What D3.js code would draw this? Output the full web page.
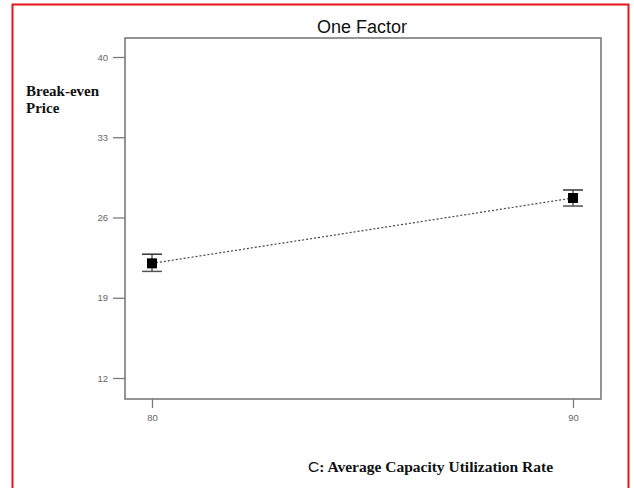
<!DOCTYPE html>
<html>
<head>
<meta charset="utf-8">
<script src="https://cdn.jsdelivr.net/npm/d3@7"></script>
<style>
  body { margin: 0; background: #fff; }
</style>
</head>
<body>
<div id="chart"></div>
<script>
// data
const levels = [80, 90];
const means = [22.0, 27.7];
const lower = [21.3, 27.0];
const upper = [22.8, 28.4];
const yTicks = [12, 19, 26, 33, 40];

const width = 634, height = 488;
const plot = { left: 125, right: 601, top: 38, bottom: 399 };

const svg = d3.select('#chart')
  .append('svg')
  .attr('width', width)
  .attr('height', height);

// red frame (no bottom edge, image is cut there)
svg.append('path')
  .attr('d', `M12.5,${height} L12.5,4.5 L628.5,4.5 L628.5,${height}`)
  .attr('fill', 'none')
  .attr('stroke', '#e8141c')
  .attr('stroke-width', 2);

const x = d3.scaleLinear().domain([80, 90]).range([152, 573]);
const y = d3.scaleLinear().domain([12, 40]).range([378, 57]);

// plot box
svg.append('rect')
  .attr('x', plot.left)
  .attr('y', plot.top)
  .attr('width', plot.right - plot.left)
  .attr('height', plot.bottom - plot.top)
  .attr('fill', 'none')
  .attr('stroke', '#7a7a7a')
  .attr('stroke-width', 1.6);

// y axis
const yAxis = svg.append('g')
  .attr('transform', `translate(${plot.left},0)`)
  .call(d3.axisLeft(y).tickValues(yTicks).tickSize(12).tickPadding(5).tickFormat(d3.format('d')));
yAxis.select('.domain').remove();
yAxis.selectAll('line').attr('stroke', '#7a7a7a').attr('stroke-width', 1.3);
yAxis.selectAll('text')
  .attr('fill', '#666')
  .attr('font-family', 'Liberation Sans, Arial, sans-serif')
  .attr('font-size', 9.5);

// x axis
const xAxis = svg.append('g')
  .attr('transform', `translate(0,${plot.bottom})`)
  .call(d3.axisBottom(x).tickValues(levels).tickSize(9).tickPadding(6).tickFormat(d3.format('d')));
xAxis.select('.domain').remove();
xAxis.selectAll('line').attr('stroke', '#7a7a7a').attr('stroke-width', 1.3);
xAxis.selectAll('text')
  .attr('fill', '#666')
  .attr('font-family', 'Liberation Sans, Arial, sans-serif')
  .attr('font-size', 9.5);

// dotted line between the means
const line = d3.line()
  .x((d, i) => x(levels[i]))
  .y(d => y(d));
svg.append('path')
  .datum(means)
  .attr('d', line)
  .attr('fill', 'none')
  .attr('stroke', '#444')
  .attr('stroke-width', 1.2)
  .attr('stroke-dasharray', '2,2');

// error bars
const bars = svg.append('g')
  .selectAll('g')
  .data(levels)
  .enter()
  .append('g');

bars.append('line')
  .attr('x1', d => x(d)).attr('x2', d => x(d))
  .attr('y1', (d, i) => y(upper[i])).attr('y2', (d, i) => y(lower[i]))
  .attr('stroke', '#333').attr('stroke-width', 1.2);
bars.append('line')
  .attr('x1', d => x(d) - 10).attr('x2', d => x(d) + 10)
  .attr('y1', (d, i) => y(upper[i])).attr('y2', (d, i) => y(upper[i]))
  .attr('stroke', '#333').attr('stroke-width', 1.5);
bars.append('line')
  .attr('x1', d => x(d) - 10).attr('x2', d => x(d) + 10)
  .attr('y1', (d, i) => y(lower[i])).attr('y2', (d, i) => y(lower[i]))
  .attr('stroke', '#555').attr('stroke-width', 1.5);
bars.append('rect')
  .attr('x', d => x(d) - 5)
  .attr('y', (d, i) => y(means[i]) - 5)
  .attr('width', 10)
  .attr('height', 10)
  .attr('fill', '#000');

// title
svg.append('text')
  .attr('x', 362)
  .attr('y', 33)
  .attr('text-anchor', 'middle')
  .attr('font-family', 'Liberation Sans, Arial, sans-serif')
  .attr('font-size', 18)
  .attr('fill', '#111')
  .text('One Factor');

// y label
const yl = svg.append('text')
  .attr('font-family', 'Liberation Serif, Times New Roman, serif')
  .attr('font-weight', 'bold')
  .attr('font-size', 15)
  .attr('fill', '#111');
yl.append('tspan').attr('x', 26).attr('y', 96).text('Break-even');
yl.append('tspan').attr('x', 26).attr('y', 113).text('Price');

// x label
const xl = svg.append('text')
  .attr('x', 308)
  .attr('y', 472)
  .attr('font-size', 15.5)
  .attr('fill', '#111');
xl.append('tspan')
  .attr('font-family', 'Liberation Sans, Arial, sans-serif')
  .attr('font-weight', 'normal')
  .text('C');
xl.append('tspan')
  .attr('font-family', 'Liberation Serif, Times New Roman, serif')
  .attr('font-weight', 'bold')
  .text(': Average Capacity Utilization Rate');
</script>
</body>
</html>
